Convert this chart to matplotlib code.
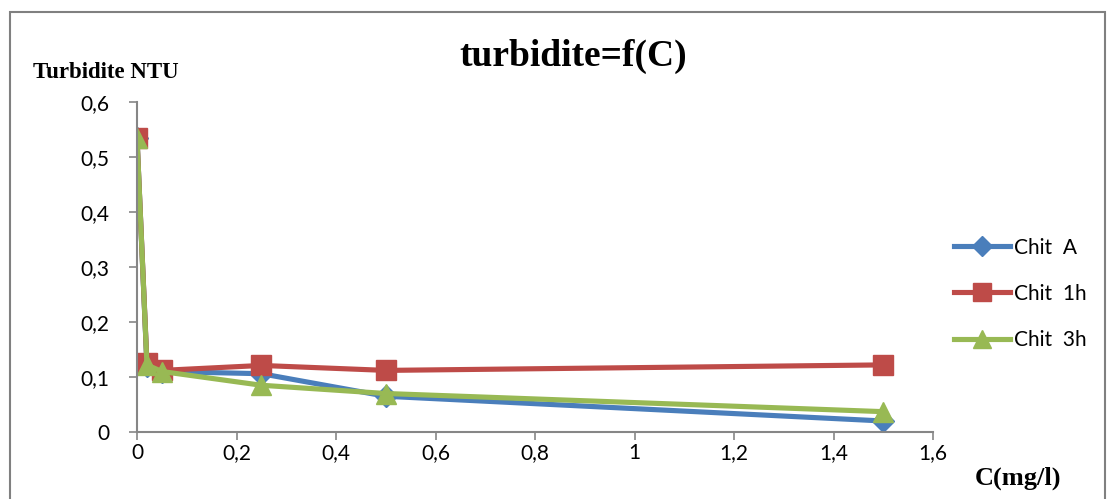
import matplotlib.pyplot as plt
from matplotlib.patches import Rectangle

# données
c_mgl = [0, 0.02, 0.05, 0.25, 0.5, 1.5]
chit_a = [0.535, 0.12, 0.11, 0.106, 0.065, 0.02]
chit_1h = [0.535, 0.125, 0.112, 0.121, 0.112, 0.122]
chit_3h = [0.535, 0.122, 0.11, 0.085, 0.07, 0.037]
x_ticks = [0, 0.2, 0.4, 0.6, 0.8, 1, 1.2, 1.4, 1.6]
y_ticks = [0, 0.1, 0.2, 0.3, 0.4, 0.5, 0.6]

plt.rcParams['font.family'] = ['Lato', 'DejaVu Sans']

fig = plt.figure(figsize=(11.09, 4.99), dpi=100)
ax = fig.add_axes([137 / 1109, 1 - 432 / 499, (933 - 137) / 1109, (432 - 102) / 499])

# cadre extérieur
fig.patches.append(Rectangle((10 / 1109, -0.1), 1095 / 1109, 1.1 - 12 / 499,
                             transform=fig.transFigure, fill=False,
                             edgecolor='#808080', linewidth=1.5))

ax.plot(c_mgl, chit_a, color='#4a7ebb', lw=3.7, marker='D', ms=11, label='Chit  A')
ax.plot(c_mgl, chit_1h, color='#be4b48', lw=3.7, marker='s', ms=14, label='Chit  1h')
ax.plot(c_mgl, chit_3h, color='#98b954', lw=3.7, marker='^', ms=15, label='Chit  3h')

ax.set_xlim(0, 1.6)
ax.set_ylim(0, 0.6)
ax.set_xticks(x_ticks)
ax.set_yticks(y_ticks)
ax.set_xticklabels([str(v).replace('.', ',') for v in x_ticks])
ax.set_yticklabels([str(v).replace('.', ',') for v in y_ticks])
ax.tick_params(axis='both', labelsize=15, color='#868686', length=6, width=1.2, direction='out')
ax.tick_params(axis='y', pad=14)
ax.tick_params(axis='x', pad=2)
for s in ['top', 'right']:
    ax.spines[s].set_visible(False)
for s in ['left', 'bottom']:
    ax.spines[s].set_color('#868686')
    ax.spines[s].set_linewidth(1.5)

fig.text(573 / 1109, 1 - 56 / 499, 'turbidite=f(C)', ha='center', va='center',
         family='Liberation Serif', fontweight='bold', fontsize=27)
fig.text(33 / 1109, 1 - 73 / 499, 'Turbidite NTU', ha='left', va='center',
         family='Liberation Serif', fontweight='bold', fontsize=16.5)
fig.text(975 / 1109, 1 - 478 / 499, 'C(mg/l)', ha='left', va='center',
         family='Liberation Serif', fontweight='bold', fontsize=19)

ax.legend(loc='upper left', bbox_to_anchor=(935 / 1109, 1 - 219 / 499),
          bbox_transform=fig.transFigure, frameon=False, fontsize=15,
          handlelength=2.7, handletextpad=0.2, labelspacing=1.25, markerscale=0.9)

fig.savefig('out.png', dpi=100)
